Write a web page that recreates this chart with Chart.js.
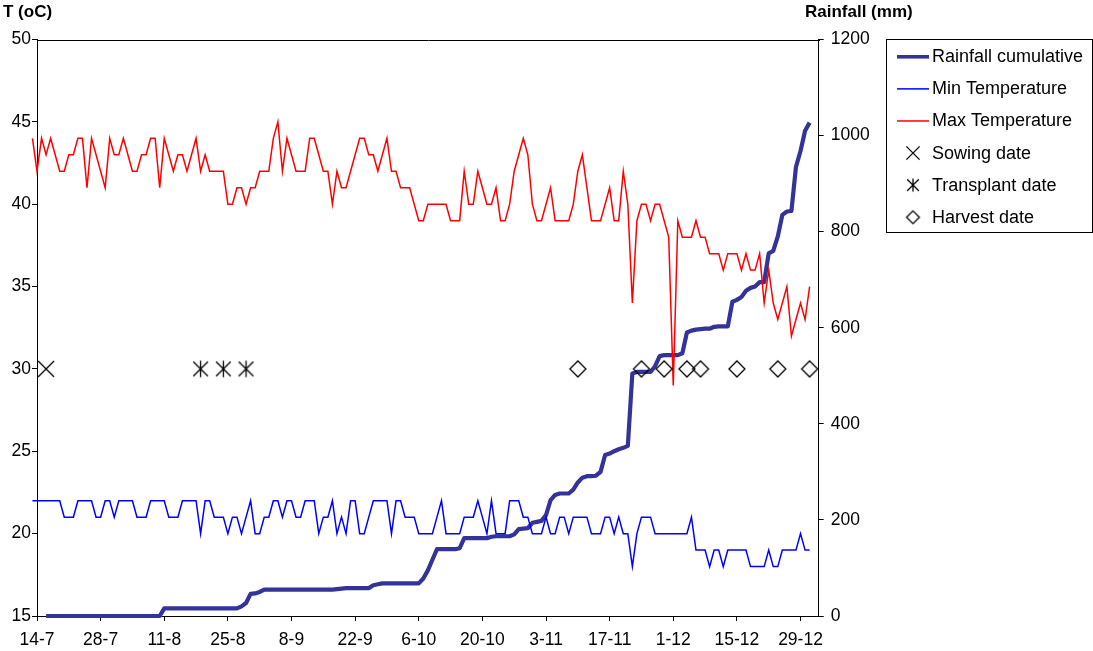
<!DOCTYPE html>
<html>
<head>
<meta charset="utf-8">
<script src="https://cdn.jsdelivr.net/npm/chart.js@4/dist/chart.umd.min.js"></script>
<style>
  html, body { margin: 0; padding: 0; background: #fff; }
  #wrap { width: 1093px; height: 651px; position: relative; }
</style>
</head>
<body>
<div id="wrap"><canvas id="c" width="1093" height="651"></canvas></div>
<script>
// ---- data (one value per day, first value on 12-7) ----
const firstDate = '12-7';
const axisStart = '14-7';
const axisEnd = '2-1';
const tickDates = ['14-7','28-7','11-8','25-8','8-9','22-9','6-10','20-10','3-11','17-11','1-12','15-12','29-12'];
const tempTicks = [15, 20, 25, 30, 35, 40, 45, 50];
const rainTicks = [0, 200, 400, 600, 800, 1000, 1200];

const maxTemp = [
  43,44,42,44,43,44,43,42,42,43,43,44,
  44,41,44,43,42,41,44,43,43,44,
  43,42,42,43,43,44,44,41,44,43,
  42,43,43,42,43,44,42,43,42,42,
  42,42,40,40,41,41,40,41,41,42,
  42,42,44,45,42,44,43,42,42,42,
  44,44,43,42,42,40,42,41,41,42,
  43,44,44,43,43,42,43,44,42,42,
  41,41,41,40,39,39,40,40,40,40,
  40,39,39,39,42,40,40,42,41,40,
  40,41,39,39,40,42,43,44,43,40,
  39,39,40,41,39,39,39,39,40,42,
  43,41,39,39,39,40,41,39,39,42,
  40,34,39,40,40,39,40,40,39,38,
  29,39,38,38,38,39,38,38,37,37,
  37,36,37,37,37,36,37,36,36,37,
  34,36,34,33,34,35,32,33,34,33,35
];

const minTemp = [
  21,22,22,22,22,22,22,22,21,21,21,22,
  22,22,22,21,21,22,22,21,22,22,
  22,22,21,21,21,22,22,22,22,21,
  21,21,22,22,22,22,20,22,22,21,
  21,21,20,21,21,20,21,22,20,20,
  21,21,22,22,21,22,22,21,21,22,
  22,22,20,21,21,22,20,21,20,22,
  22,20,20,21,22,22,22,22,20,22,
  22,21,21,21,20,20,20,20,21,22,
  20,20,20,20,21,21,21,22,21,20,
  22,20,20,20,22,22,22,21,21,20,
  20,20,21,20,20,21,21,20,21,21,
  21,21,20,20,20,21,21,20,21,20,
  20,18,20,21,21,21,20,20,20,20,
  20,20,20,20,21,19,19,19,18,19,
  19,18,19,19,19,19,19,18,18,18,
  18,19,18,18,19,19,19,19,20,19,19
];

const rainfallCum = [
  null,null,null,null,0,0,0,0,0,0,0,0,
  0,0,0,0,0,0,0,0,0,0,
  0,0,0,0,0,0,0,0,16,16,
  16,16,16,16,16,16,16,16,16,16,
  16,16,16,16,16,20,27,46,47,50,
  55,55,55,55,55,55,55,55,55,55,
  55,55,55,55,55,55,56,57,58,58,
  58,58,58,58,64,66,68,68,68,68,
  68,68,68,68,68,78,95,117,139,139,
  139,139,139,141,162,162,162,162,162,162,
  165,166,166,166,166,170,181,182,183,194,
  196,198,210,241,252,255,255,255,263,278,
  288,291,291,292,300,335,338,343,347,350,
  354,505,508,508,508,508,520,541,543,543,
  543,543,547,590,594,596,597,598,598,602,
  603,603,603,654,658,664,677,683,686,695,
  695,755,760,790,835,842,843,935,968,1010,1027
];

const markerTemp = 30;
const sowingDates = ['16-7'];
const transplantDates = ['19-8','24-8','29-8'];
const harvestDates = ['10-11','24-11','29-11','4-12','7-12','15-12','24-12','31-12'];

// ---- helpers ----
// day number counted from 14-7; January dates belong to the following year
function dayOf(s) {
  const [d, m] = s.split('-').map(Number);
  const year = m < 7 ? 2001 : 2000;
  return Math.round((Date.UTC(year, m - 1, d) - Date.UTC(2000, 6, 14)) / 86400000);
}
const day0 = dayOf(firstDate);
const series = arr => arr.map((v, i) => ({ x: day0 + i, y: v }));
const events = arr => arr.map(s => ({ x: dayOf(s), y: markerTemp }));

const FONT = "'Liberation Sans', Arial, Helvetica, sans-serif";

function makeMarker(kind, h) {
  const size = Math.ceil(h * 2 + 4);
  const cv = document.createElement('canvas');
  cv.width = size; cv.height = size;
  const g = cv.getContext('2d');
  const c = size / 2;
  g.strokeStyle = '#000';
  g.lineWidth = 1.3;
  g.beginPath();
  if (kind === 'x') {
    g.moveTo(c - h, c - h); g.lineTo(c + h, c + h);
    g.moveTo(c + h, c - h); g.lineTo(c - h, c + h);
  } else if (kind === 'star') {
    const w = h * 0.88;
    g.moveTo(c - w, c - w); g.lineTo(c + w, c + w);
    g.moveTo(c + w, c - w); g.lineTo(c - w, c + w);
    g.moveTo(c, c - h); g.lineTo(c, c + h);
  } else {
    g.moveTo(c, c - h); g.lineTo(c + h, c); g.lineTo(c, c + h); g.lineTo(c - h, c); g.closePath();
  }
  g.stroke();
  return cv;
}

const markerKinds = { 'Sowing date': 'x', 'Transplant date': 'star', 'Harvest date': 'diamond' };

// plot frame (top edge; the other three edges come from the axes)
const framePlugin = {
  id: 'frame',
  beforeDatasetsDraw(chart) {
    const { ctx, chartArea: a } = chart;
    ctx.save();
    ctx.strokeStyle = '#000';
    ctx.lineWidth = 1;
    ctx.beginPath();
    const t = Math.round(a.top) + 0.5;
    ctx.moveTo(Math.round(a.left), t);
    ctx.lineTo(Math.round(a.right) + 1, t);
    ctx.stroke();
    ctx.restore();
  }
};

// axis titles written horizontally above each axis
const titlePlugin = {
  id: 'axisTitles',
  afterDraw(chart) {
    const { ctx } = chart;
    ctx.save();
    ctx.fillStyle = '#000';
    ctx.font = 'bold 17px ' + FONT;
    ctx.textBaseline = 'alphabetic';
    ctx.textAlign = 'left';
    ctx.fillText('T (oC)', 3, 17);
    ctx.fillText('Rainfall (mm)', 805, 17);
    ctx.restore();
  }
};

// boxed legend to the right of the plot
const legendPlugin = {
  id: 'boxLegend',
  afterDraw(chart) {
    const { ctx } = chart;
    const box = { l: 886.5, t: 39.5, r: 1092.5, b: 232.5 };
    ctx.save();
    ctx.fillStyle = '#fff';
    ctx.fillRect(box.l, box.t, box.r - box.l, box.b - box.t);
    ctx.strokeStyle = '#000';
    ctx.lineWidth = 1;
    ctx.strokeRect(box.l, box.t, box.r - box.l, box.b - box.t);
    ctx.font = '18px ' + FONT;
    ctx.textBaseline = 'middle';
    ctx.textAlign = 'left';
    chart.data.datasets.forEach((ds, i) => {
      const y = 56.8 + i * 32.08;
      const kind = markerKinds[ds.label];
      if (kind) {
        const img = makeMarker(kind, kind === 'diamond' ? 6.4 : 6.6);
        ctx.drawImage(img, 913 - img.width / 2, y - img.height / 2);
      } else {
        ctx.strokeStyle = ds.borderColor;
        ctx.lineWidth = ds.legendWidth;
        ctx.beginPath();
        ctx.moveTo(897, y);
        ctx.lineTo(929, y);
        ctx.stroke();
      }
      ctx.fillStyle = '#000';
      ctx.fillText(ds.label, 932, y + 0.5);
    });
    ctx.restore();
  }
};

const tickFont = { family: FONT, size: 17.5 };
const axisGrid = { display: true, drawOnChartArea: false, drawTicks: true, tickLength: 5, color: '#000', lineWidth: 1 };
const axisBorder = { display: true, color: '#000', width: 1 };
const plainNumber = v => String(v);

new Chart(document.getElementById('c'), {
  type: 'line',
  data: {
    datasets: [
      {
        label: 'Rainfall cumulative', yAxisID: 'y2', data: series(rainfallCum),
        borderColor: '#333399', borderWidth: 4.2, legendWidth: 3.6, pointRadius: 0,
        borderJoinStyle: 'round', tension: 0, order: 6, clip: { left: 0, right: 3, top: 3, bottom: 3 }
      },
      {
        label: 'Min Temperature', yAxisID: 'y', data: series(minTemp),
        borderColor: '#0000FF', borderWidth: 1.5, legendWidth: 1.5, pointRadius: 0,
        tension: 0, order: 5, clip: { left: 7.5, right: 3, top: 3, bottom: 3 }
      },
      {
        label: 'Max Temperature', yAxisID: 'y', data: series(maxTemp),
        borderColor: '#FF0000', borderWidth: 1.5, legendWidth: 1.5, pointRadius: 0,
        tension: 0, order: 4, clip: { left: 7.5, right: 3, top: 3, bottom: 3 }
      },
      {
        label: 'Sowing date', yAxisID: 'y', data: events(sowingDates), showLine: false,
        pointStyle: makeMarker('x', 8), pointRadius: 8, pointHoverRadius: 8, order: 3, clip: false
      },
      {
        label: 'Transplant date', yAxisID: 'y', data: events(transplantDates), showLine: false,
        pointStyle: makeMarker('star', 8.3), pointRadius: 8, pointHoverRadius: 8, order: 2, clip: false
      },
      {
        label: 'Harvest date', yAxisID: 'y', data: events(harvestDates), showLine: false,
        pointStyle: makeMarker('diamond', 8), pointRadius: 8, pointHoverRadius: 8, order: 1, clip: false
      }
    ]
  },
  options: {
    responsive: false,
    animation: false,
    devicePixelRatio: 1,
    events: [],
    layout: { padding: { top: 39.5, left: 0, right: 0, bottom: 0 } },
    plugins: { legend: { display: false }, tooltip: { enabled: false }, title: { display: false } },
    scales: {
      x: {
        type: 'linear', position: 'bottom',
        min: dayOf(axisStart), max: dayOf(axisEnd),
        grid: axisGrid, border: axisBorder,
        afterBuildTicks: s => { s.ticks = tickDates.map(d => ({ value: dayOf(d) })); },
        afterFit: s => { s.height = 35; },
        ticks: {
          autoSkip: false, maxRotation: 0, color: '#000', font: tickFont, padding: 9,
          callback: (v, i) => tickDates[i]
        }
      },
      y: {
        type: 'linear', position: 'left',
        min: tempTicks[0], max: tempTicks[tempTicks.length - 1],
        grid: axisGrid, border: axisBorder,
        afterBuildTicks: s => { s.ticks = tempTicks.map(v => ({ value: v })); },
        afterFit: s => { s.width = 37; },
        ticks: { color: '#000', font: tickFont, padding: 1, callback: plainNumber }
      },
      y2: {
        type: 'linear', position: 'right',
        min: rainTicks[0], max: rainTicks[rainTicks.length - 1],
        grid: axisGrid, border: axisBorder,
        afterBuildTicks: s => { s.ticks = rainTicks.map(v => ({ value: v })); },
        afterFit: s => { s.width = 1093 - 818.7; },
        ticks: { color: '#000', font: tickFont, padding: 7, callback: plainNumber }
      }
    }
  },
  plugins: [framePlugin, titlePlugin, legendPlugin]
});
</script>
</body>
</html>
